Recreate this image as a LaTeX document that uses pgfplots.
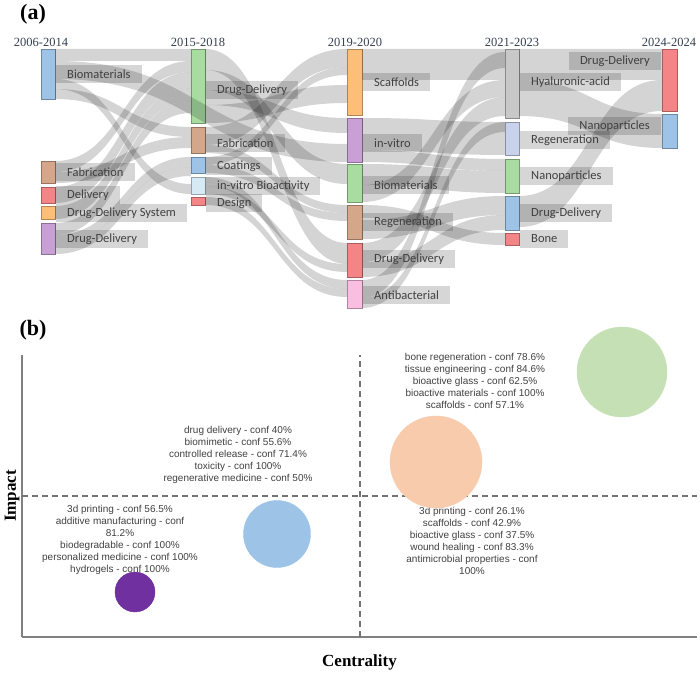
\documentclass[border=0pt]{standalone}
\usepackage{pgfplots}
\pgfplotsset{compat=1.18}
\usepackage{fontspec}
\newfontfamily\calib{Carlito}
\newfontfamily\tms{Liberation Serif}
\newfontfamily\arl{Liberation Sans}

\definecolor{nblue}{RGB}{157,195,230}
\definecolor{nbrown}{RGB}{213,167,138}
\definecolor{nred}{RGB}{243,133,135}
\definecolor{norange}{RGB}{253,190,120}
\definecolor{npurple}{RGB}{200,160,214}
\definecolor{ngreen}{RGB}{168,220,160}
\definecolor{nlblue}{RGB}{214,234,246}
\definecolor{npink}{RGB}{250,190,225}
\definecolor{ngrey}{RGB}{200,200,200}
\definecolor{nlav}{RGB}{200,210,236}
\definecolor{hdr}{RGB}{51,63,80}
\definecolor{bgreen}{RGB}{197,224,180}
\definecolor{borange}{RGB}{248,203,173}
\definecolor{bblue}{RGB}{157,195,230}
\definecolor{bpurple}{RGB}{112,48,160}

\tikzset{
  flowst/.style={fill=black, fill opacity=0.17, draw=none},
  lbl/.style={font=\calib\fontsize{12.5}{14}\selectfont, text=black!75,
    fill=black, fill opacity=0.16, text opacity=1,
    inner xsep=11pt, inner ysep=0pt, minimum height=18pt},
  hd/.style={font=\tms\fontsize{12.5}{14}\selectfont, text=hdr},
  btxt/.style={font=\arl\fontsize{10}{12}\selectfont, text=black!75, align=center},
}

% sankey node: x0, x1, ytop, ybottom, colour
\newcommand\snode[5]{\addplot[fill=#5, draw=#5!70!black, line width=0.6pt]
  coordinates {(#1,#3) (#2,#3) (#2,#4) (#1,#4)} --cycle;}
% ribbon: x0, top0, bottom0, x1, top1, bottom1
\newcommand\flow[6]{%
  \pgfmathsetmacro\xm{(#1+#4)/2}%
  \edef\tmp{\noexpand\fill[flowst] (axis cs:#1,#2) .. controls (axis cs:\xm,#2) and (axis cs:\xm,#5) .. (axis cs:#4,#5)
    -- (axis cs:#4,#6) .. controls (axis cs:\xm,#6) and (axis cs:\xm,#3) .. (axis cs:#1,#3) -- cycle;}%
  \tmp}
\newcommand\lbl[3]{\node[lbl, anchor=west] at (axis cs:#1,#2) {#3};}
\newcommand\lblL[3]{\node[lbl, anchor=east] at (axis cs:#1,#2) {#3};}

\begin{document}
\begin{tikzpicture}
\useasboundingbox (0,0) rectangle (700pt,674pt);

% ---------------- (a) sankey ----------------
\begin{axis}[at={(0,0)}, anchor=south west, width=700pt, height=674pt,
  scale only axis, xmin=0, xmax=700, ymin=0, ymax=674, y dir=reverse,
  hide axis, clip=false]

% 2006-2014
\snode{41}{55}{49}{99}{nblue}
\snode{41}{55}{161}{183}{nbrown}
\snode{41}{55}{187}{203}{nred}
\snode{41}{55}{206}{219}{norange}
\snode{41}{55}{223}{254}{npurple}
% 2015-2018
\snode{191}{205}{49}{123}{ngreen}
\snode{191}{205}{127}{153}{nbrown}
\snode{191}{205}{157}{173}{nblue}
\snode{191}{205}{177}{194}{nlblue}
\snode{191}{205}{197}{205}{nred}
% 2019-2020
\snode{347}{362}{49}{115}{norange}
\snode{347}{362}{118}{162}{npurple}
\snode{347}{362}{164}{202}{ngreen}
\snode{347}{362}{205}{239}{nbrown}
\snode{347}{362}{243}{277}{nred}
\snode{347}{362}{280}{308}{npink}
% 2021-2023
\snode{505}{519}{49}{118}{ngrey}
\snode{505}{519}{122}{155}{nlav}
\snode{505}{519}{159}{193}{ngreen}
\snode{505}{519}{196}{230}{nblue}
\snode{505}{519}{233}{245}{nred}
% 2024-2024
\snode{662}{677}{49}{111}{nred}
\snode{662}{677}{114}{148}{nblue}

% flows 2006-2014 -> 2015-2018
\flow{55}{49}{61}{191}{49}{61}
\flow{55}{89}{99}{191}{127}{137}
\flow{55}{79}{89}{191}{184}{194}
\flow{55}{161}{172}{191}{61}{72}
\flow{55}{172}{183}{191}{137}{148}
\flow{55}{187}{203}{191}{72}{88}
\flow{55}{206}{219}{191}{88}{101}
\flow{55}{223}{235}{191}{101}{113}
\flow{55}{235}{245}{191}{157}{167}
\flow{55}{245}{254}{191}{167}{176}
\flow{55}{61}{79}{347}{144}{162}
% flows 2015-2018 -> 2019-2020
\flow{205}{49}{70}{347}{243}{264}
\flow{205}{70}{90}{347}{164}{184}
\flow{205}{90}{105}{347}{118}{133}
\flow{205}{105}{123}{347}{85}{103}
\flow{205}{127}{145}{347}{49}{67}
\flow{205}{145}{153}{347}{205}{213}
\flow{205}{157}{165}{347}{67}{75}
\flow{205}{165}{173}{347}{213}{221}
\flow{205}{177}{186}{347}{280}{289}
\flow{205}{186}{194}{347}{264}{272}
\flow{205}{197}{205}{347}{289}{297}
% flows 2019-2020 -> 2021-2023
\flow{362}{49}{80}{505}{49}{80}
\flow{362}{118}{150}{505}{122}{155}
\flow{362}{150}{162}{505}{159}{171}
\flow{362}{164}{185}{505}{171}{193}
\flow{362}{185}{202}{505}{80}{97}
\flow{362}{205}{218}{505}{233}{245}
\flow{362}{220}{239}{505}{196}{215}
\flow{362}{243}{262}{505}{97}{116}
\flow{362}{262}{277}{505}{215}{230}
\flow{362}{280}{298}{505}{52}{68}
\flow{362}{298}{308}{505}{122}{132}
% flows 2021-2023 -> 2024-2024
\flow{519}{49}{80}{662}{49}{80}
\flow{519}{80}{116}{662}{114}{148}
\flow{519}{196}{227}{662}{80}{111}

% labels
\lbl{56}{74}{Biomaterials}
\lbl{56}{172}{Fabrication}
\lbl{56}{195}{Delivery}
\lbl{56}{213}{Drug-Delivery System}
\lbl{56}{239}{Drug-Delivery}
\lbl{206}{90}{Drug-Delivery}
\lbl{206}{143}{Fabrication}
\lbl{206}{166}{Coatings}
\lbl{206}{186}{in-vitro Bioactivity}
\lbl{206}{203}{Design}
\lbl{363}{82}{Scaffolds}
\lbl{363}{143}{in-vitro}
\lbl{363}{185}{Biomaterials}
\lbl{363}{222}{Regeneration}
\lbl{363}{259}{Drug-Delivery}
\lbl{363}{295}{Antibacterial}
\lbl{520}{82}{Hyaluronic-acid}
\lbl{520}{140}{Regeneration}
\lbl{520}{176}{Nanoparticles}
\lbl{520}{213}{Drug-Delivery}
\lbl{520}{239}{Bone}
\lblL{661}{61}{Drug-Delivery}
\lblL{661}{126}{Nanoparticles}

% column headers
\node[hd] at (axis cs:41,42) {2006-2014};
\node[hd] at (axis cs:198,42) {2015-2018};
\node[hd] at (axis cs:355,42) {2019-2020};
\node[hd] at (axis cs:512,42) {2021-2023};
\node[hd] at (axis cs:669,42) {2024-2024};

% panel letters
\node[font=\tms\bfseries\fontsize{22}{24}\selectfont] at (axis cs:33,14) {(a)};
\node[font=\tms\bfseries\fontsize{22}{24}\selectfont] at (axis cs:33,330) {(b)};
\end{axis}

% ---------------- (b) strategic map ----------------
\begin{axis}[at={(22pt,37pt)}, anchor=south west, width=675pt, height=282pt,
  scale only axis, xmin=22, xmax=697, ymin=37, ymax=319,
  axis x line=bottom, axis y line=left,
  axis line style={-, black!50, line width=1.1pt},
  xtick=\empty, ytick=\empty, clip=false,
  xlabel={Centrality}, ylabel={Impact},
  xlabel style={at={(axis description cs:0.5,-0.0887)}, anchor=center,
    font=\tms\bfseries\fontsize{17}{19}\selectfont},
  ylabel style={at={(axis description cs:-0.0148,0.5)}, anchor=center,
    font=\tms\bfseries\fontsize{17}{19}\selectfont}]

% bubbles
\addplot[only marks, mark=*, mark size=45pt, color=bgreen] coordinates {(622,302)};
\addplot[only marks, mark=*, mark size=46pt, color=borange] coordinates {(436,212)};
\addplot[only marks, mark=*, mark size=33.5pt, color=bblue] coordinates {(277,140)};
\addplot[only marks, mark=*, mark size=20pt, color=bpurple] coordinates {(135,82)};

% quadrant lines
\addplot[black!55, line width=1.1pt, dash pattern=on 6pt off 4pt] coordinates {(22,178) (697,178)};
\addplot[black!55, line width=1.1pt, dash pattern=on 6pt off 4pt] coordinates {(360,37) (360,319)};

% theme texts
\node[btxt] at (axis cs:475,293) {bone regeneration - conf 78.6\%\\tissue engineering - conf 84.6\%\\bioactive glass - conf 62.5\%\\bioactive materials - conf 100\%\\scaffolds - conf 57.1\%};
\node[btxt] at (axis cs:238,219) {drug delivery - conf 40\%\\biomimetic - conf 55.6\%\\controlled release - conf 71.4\%\\toxicity - conf 100\%\\regenerative medicine - conf 50\%};
\node[btxt] at (axis cs:120,134.5) {3d printing - conf 56.5\%\\additive manufacturing - conf\\81.2\%\\biodegradable - conf 100\%\\personalized medicine - conf 100\%\\hydrogels - conf 100\%};
\node[btxt] at (axis cs:472,133.5) {3d printing - conf 26.1\%\\scaffolds - conf 42.9\%\\bioactive glass - conf 37.5\%\\wound healing - conf 83.3\%\\antimicrobial properties - conf\\100\%};
\end{axis}
\end{tikzpicture}
\end{document}
